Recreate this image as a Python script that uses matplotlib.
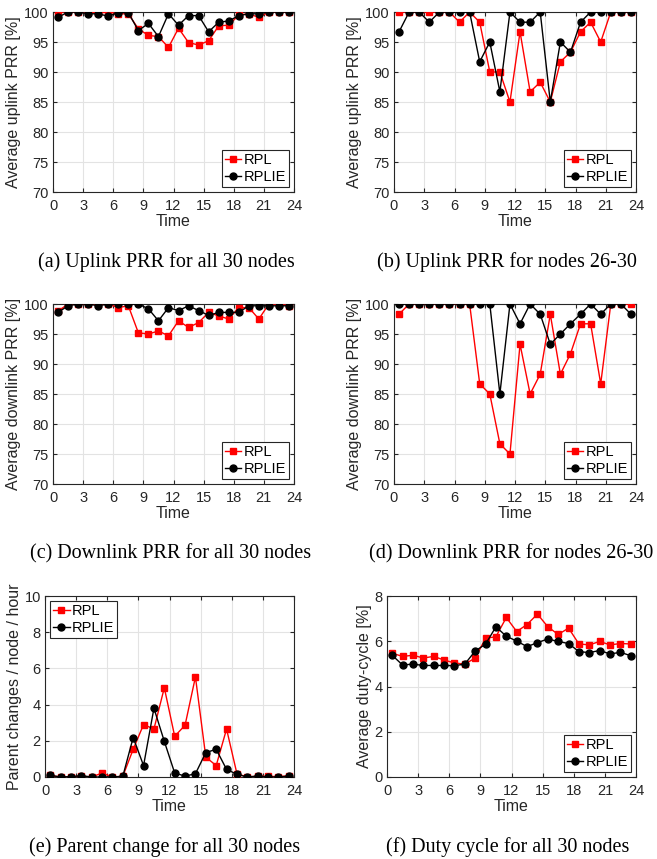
import matplotlib
matplotlib.use("Agg")
import matplotlib.pyplot as plt
import numpy as np

hours = [h + 0.5 for h in range(24)]
xticks = [0, 3, 6, 9, 12, 15, 18, 21, 24]

up_all_rpl = [100, 100, 100, 100, 99.8, 100, 99.7, 99.7, 97.2, 96.1, 95.9, 94.1,
              97.3, 94.9, 94.5, 95.2, 97.7, 97.8, 99.5, 99.7, 99.1, 100, 100, 100]
up_all_rplie = [99.1, 100, 100, 99.7, 99.7, 99.3, 99.9, 99.9, 96.9, 98.1, 95.9, 99.7,
                97.8, 99.4, 99.4, 96.7, 98.3, 98.5, 99.4, 99.7, 99.7, 100, 100, 100]

up_26_rpl = [100, 100, 100, 100, 100, 100, 98.3, 100, 98.3, 90, 90, 85,
             96.7, 86.7, 88.3, 85, 91.7, 93.3, 96.7, 98.3, 95, 100, 100, 100]
up_26_rplie = [96.7, 100, 100, 98.3, 100, 100, 100, 100, 91.7, 95, 86.7, 100,
               98.3, 98.3, 100, 85, 95, 93.3, 98.3, 100, 100, 100, 100, 100]

down_all_rpl = [98.8, 100, 100, 100, 100, 100, 99.4, 99.7, 95.2, 95.0, 95.5, 94.7,
                97.2, 96.1, 96.9, 98.6, 98.0, 97.5, 99.4, 99.4, 97.5, 100, 100, 99.7]
down_all_rplie = [98.6, 99.7, 100, 100, 99.7, 100, 100, 100, 100, 99.2, 97.2, 99.4,
                  98.9, 99.7, 98.9, 98.1, 98.6, 98.6, 98.6, 99.7, 99.7, 99.7, 99.7, 99.7]

down_26_rpl = [98.3, 100, 100, 100, 100, 100, 100, 100, 86.7, 85, 76.7, 75,
               93.3, 85, 88.3, 98.3, 88.3, 91.7, 96.7, 96.7, 86.7, 100, 100, 100]
down_26_rplie = [100, 100, 100, 100, 100, 100, 100, 100, 100, 100, 85, 100,
                 96.7, 100, 98.3, 93.3, 95, 96.7, 98.3, 100, 98.3, 100, 100, 98.3]

parent_rpl = [0.09, 0, 0, 0.05, 0, 0.22, 0, 0.04, 1.53, 2.9, 2.65, 4.93,
              2.25, 2.86, 5.53, 1.1, 0.63, 2.65, 0.18, 0, 0.05, 0.04, 0.02, 0.07]
parent_rplie = [0.09, 0, 0.02, 0.07, 0, 0, 0, 0.04, 2.18, 0.63, 3.8, 1.97,
                0.22, 0.05, 0.18, 1.35, 1.53, 0.42, 0.15, 0, 0.05, 0, 0, 0.05]

duty_rpl = [5.47, 5.33, 5.38, 5.26, 5.33, 5.17, 5.04, 4.99, 5.26, 6.13, 6.2, 7.05,
            6.43, 6.74, 7.2, 6.64, 6.3, 6.58, 5.88, 5.84, 5.99, 5.84, 5.9, 5.88]
duty_rplie = [5.38, 4.95, 4.99, 4.93, 4.93, 4.93, 4.92, 4.99, 5.57, 5.87, 6.64, 6.22,
              6.01, 5.76, 5.94, 6.1, 5.99, 5.9, 5.54, 5.5, 5.59, 5.44, 5.51, 5.36]

W, H = 657, 859
fig = plt.figure(figsize=(W / 100, H / 100), dpi=100)
sans = ["Liberation Sans", "DejaVu Sans"]
serif = ["Liberation Serif", "DejaVu Serif"]
TXT = "#262626"

def ax_at(l, t, r, b):
    return fig.add_axes([l / W, 1 - b / H, (r - l) / W, (b - t) / H])

panels = [
    ((53, 12, 294, 192), up_all_rpl, up_all_rplie, (70, 100), range(70, 101, 5),
     "Average uplink PRR [%]", "(a) Uplink PRR for all 30 nodes", "lower right", 166),
    ((394, 12, 636, 192), up_26_rpl, up_26_rplie, (70, 100), range(70, 101, 5),
     "Average uplink PRR [%]", "(b) Uplink PRR for nodes 26-30", "lower right", 507),
    ((53, 304, 294, 484), down_all_rpl, down_all_rplie, (70, 100), range(70, 101, 5),
     "Average downlink PRR [%]", "(c) Downlink PRR for all 30 nodes", "lower right", 171),
    ((394, 304, 636, 484), down_26_rpl, down_26_rplie, (70, 100), range(70, 101, 5),
     "Average downlink PRR [%]", "(d) Downlink PRR for nodes 26-30", "lower right", 511),
    ((45, 596, 294, 777), parent_rpl, parent_rplie, (0, 10), range(0, 11, 2),
     "Parent changes / node / hour", "(e) Parent change for all 30 nodes", "upper left", 165),
    ((387, 596, 636, 777), duty_rpl, duty_rplie, (0, 8), range(0, 9, 2),
     "Average duty-cycle [%]", "(f) Duty cycle for all 30 nodes", "lower right", 508),
]

for box, rpl, rplie, ylim, yt, ylab, cap, loc, cx in panels:
    ax = ax_at(*box)
    ax.plot(hours, rpl, color="#ff0000", marker="s", markersize=5, lw=1,
            label="RPL", zorder=3)
    ax.plot(hours, rplie, color="black", marker="o", markersize=5, lw=1,
            label="RPLIE", zorder=4)
    ax.set_xlim(0, 24)
    ax.set_ylim(*ylim)
    ax.set_xticks(xticks)
    ax.set_yticks(list(yt))
    ax.grid(True, color="#e3e3e3", lw=0.8)
    ax.set_axisbelow(True)
    ax.tick_params(direction="in", top=True, right=True, length=3, width=0.8,
                   labelsize=10.5, colors=TXT, labelcolor=TXT)
    ax.tick_params(axis="x", pad=5)
    ax.tick_params(axis="y", pad=3)
    for lab in ax.get_xticklabels() + ax.get_yticklabels():
        lab.set_family(sans)
    for s in ax.spines.values():
        s.set_color(TXT)
        s.set_linewidth(0.8)
    ax.set_xlabel("Time", fontsize=11.5, family=sans, color=TXT, labelpad=1)
    ax.set_ylabel(ylab, fontsize=11.5, family=sans, color=TXT, labelpad=2)
    leg = ax.legend(loc=loc, prop={"family": sans, "size": 10.5}, fancybox=False,
                    framealpha=1, edgecolor=TXT, borderpad=0.2,
                    handlelength=1.15, handletextpad=0.15, labelspacing=0.2,
                    borderaxespad=0.35)
    leg.get_frame().set_linewidth(0.8)
    fig.text(cx / W, 1 - (box[3] + 70) / H, cap, ha="center", va="center",
             fontsize=14.5, family=serif)

fig.savefig("out.png", dpi=100)
